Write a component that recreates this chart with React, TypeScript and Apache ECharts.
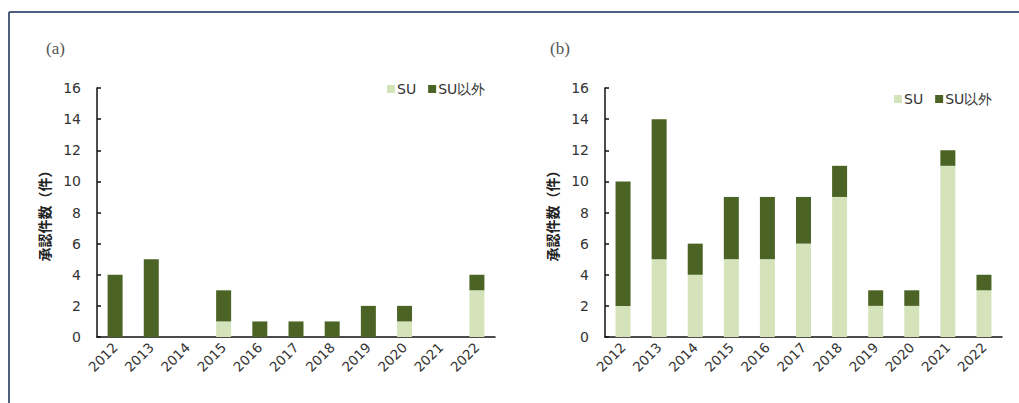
import React, { useEffect, useRef } from "react";
import * as echarts from "echarts";

const years = ["2012", "2013", "2014", "2015", "2016", "2017", "2018", "2019", "2020", "2021", "2022"];
const aSU = [0, 0, 0, 1, 0, 0, 0, 0, 1, 0, 3];
const aOther = [4, 5, 0, 2, 1, 1, 1, 2, 1, 0, 1];
const bSU = [2, 5, 4, 5, 5, 6, 9, 2, 2, 11, 3];
const bOther = [8, 9, 2, 4, 4, 3, 2, 1, 1, 1, 1];
const seriesNames = ["SU", "SU以外"];
const panelTitles = ["(a)", "(b)"];
const yAxisName = "承認件数（件）";

const LIGHT = "#d5e3bb";
const DARK = "#4b6425";
const FONT = "'DejaVu Sans', Verdana, sans-serif";

export default function App() {
  const ref = useRef<HTMLDivElement>(null);
  useEffect(() => {
    if (!ref.current) return;
    const chart = echarts.init(ref.current, null, { renderer: "svg" });
    const grids = [
      { left: 97, right: 524, top: 88, bottom: 66 },
      { left: 605, right: 17, top: 88, bottom: 66 },
    ];
    const xAxis = [0, 1].map((i) => ({
      type: "category",
      gridIndex: i,
      data: years,
      boundaryGap: true,
      axisLine: { lineStyle: { color: "#111", width: 1.5 } },
      axisTick: { inside: true, length: 4, lineStyle: { color: "#111", width: 1.5 } },
      axisLabel: { rotate: 45, fontSize: 13.5, color: "#333", fontFamily: FONT, margin: 8, interval: 0 },
    }));
    const yAxis = [0, 1].map((i) => ({
      type: "value",
      gridIndex: i,
      min: 0,
      max: 16,
      interval: 2,
      name: yAxisName,
      nameLocation: "middle",
      nameRotate: 90,
      nameGap: 46,
      nameTextStyle: { fontSize: 14, fontWeight: "bold", color: "#222", fontFamily: "'Noto Sans CJK JP', sans-serif" },
      axisLine: { show: true, lineStyle: { color: "#111", width: 1.5 } },
      axisTick: { show: true, inside: true, length: 4, lineStyle: { color: "#111", width: 1.5 } },
      splitLine: { show: false },
      axisLabel: { fontSize: 14, color: "#333", fontFamily: FONT, margin: 16 },
    }));
    const mk = (name: string, data: number[], idx: number, color: string) => ({
      type: "bar",
      name,
      data,
      xAxisIndex: idx,
      yAxisIndex: idx,
      stack: "s" + idx,
      barWidth: 15,
      itemStyle: { color },
    });
    const legendBase = {
      data: seriesNames,
      itemWidth: 8,
      itemHeight: 8,
      itemGap: 12,
      icon: "rect",
      textStyle: { fontSize: 14, color: "#333", fontFamily: FONT, padding: [0, 0, 0, -3] },
    };
    const titleStyle = { fontFamily: "'Liberation Serif', serif", fontSize: 17, fontWeight: "normal", color: "#555" };
    chart.setOption({
      animation: false,
      grid: grids,
      xAxis,
      yAxis,
      legend: [
        { ...legendBase, left: 382, top: 77 },
        { ...legendBase, left: 889, top: 87 },
      ],
      title: [
        { text: panelTitles[0], left: 41, top: 35, textStyle: titleStyle },
        { text: panelTitles[1], left: 545, top: 35, textStyle: titleStyle },
      ],
      graphic: [
        { type: "line", shape: { x1: 9, y1: 12, x2: 1019, y2: 12 }, style: { stroke: "#4e6080", lineWidth: 2 } },
        { type: "line", shape: { x1: 9, y1: 12, x2: 9, y2: 403 }, style: { stroke: "#4e6080", lineWidth: 2 } },
      ],
      series: [
        mk(seriesNames[0], aSU, 0, LIGHT),
        mk(seriesNames[1], aOther, 0, DARK),
        mk(seriesNames[0], bSU, 1, LIGHT),
        mk(seriesNames[1], bOther, 1, DARK),
      ],
    });
    return () => chart.dispose();
  }, []);
  return <div ref={ref} style={{ position: "fixed", left: 0, top: 0, width: 1019, height: 403, background: "#fff" }} />;
}
